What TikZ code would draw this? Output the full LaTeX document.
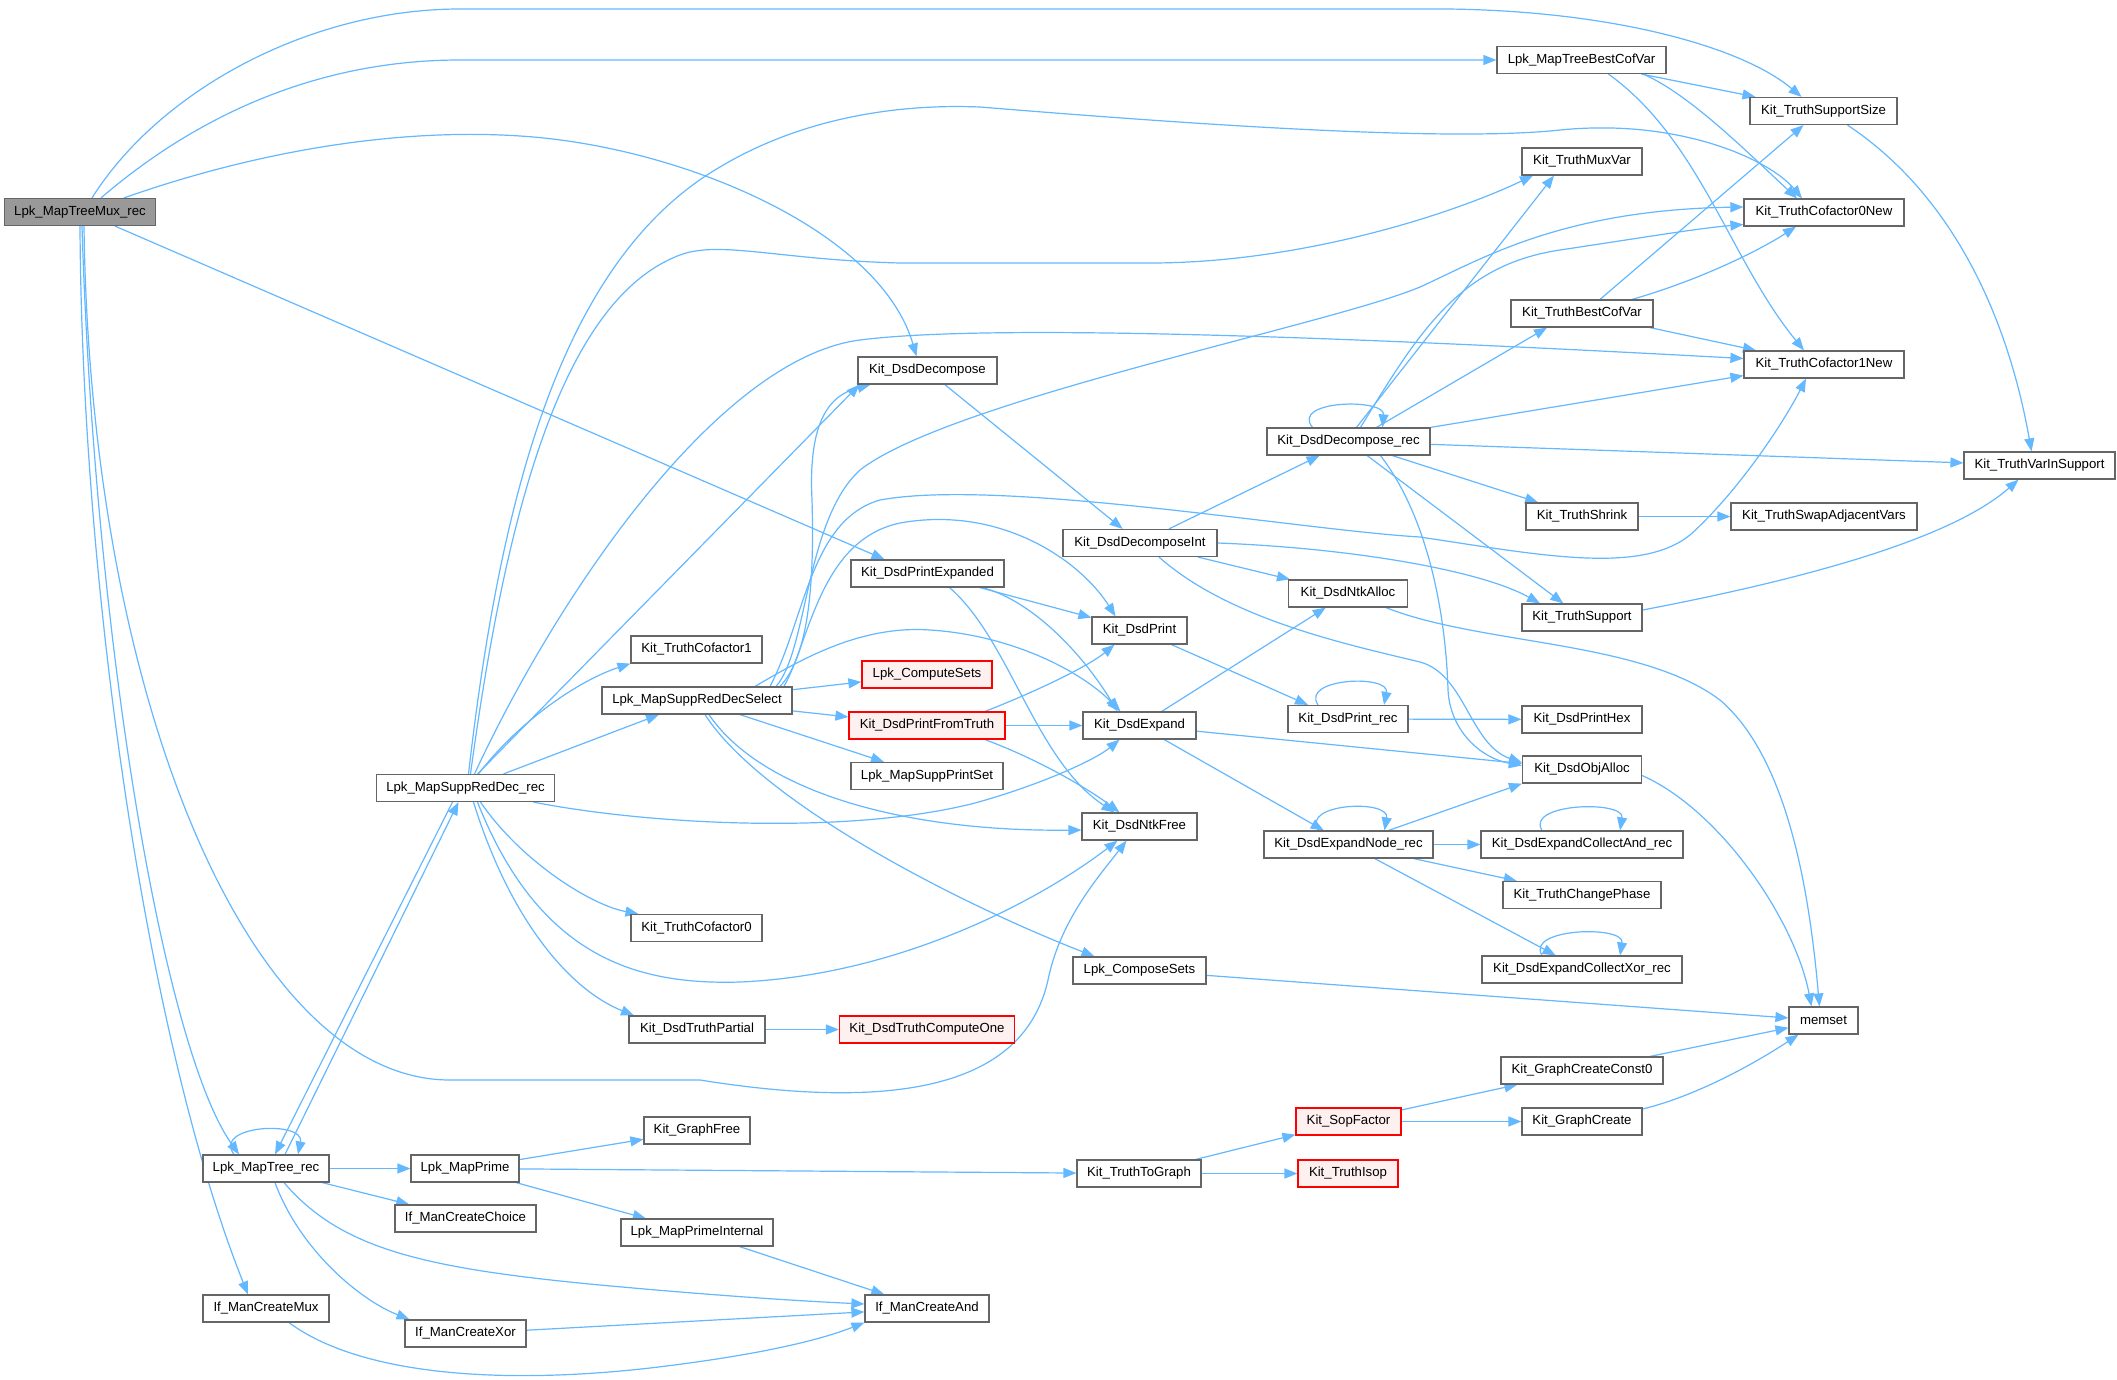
\documentclass[tikz,border=0pt]{standalone}
\usepackage{fontspec}
\setmainfont{Liberation Sans}
\usetikzlibrary{arrows.meta,backgrounds}
\definecolor{edgec}{HTML}{63B8FF}
\definecolor{boxc}{HTML}{666666}
\definecolor{rootf}{HTML}{999999}
\definecolor{redf}{HTML}{FFF0F0}
\definecolor{redc}{HTML}{FF0000}
\begin{document}
\begin{tikzpicture}[x=1pt,y=-1pt,
 fn/.style={draw=boxc,line width=1.2pt,fill=white,minimum height=27pt,inner sep=0pt,font=\fontsize{13.2}{15}\selectfont,text=black},
 rootfn/.style={fn,fill=rootf},
 redfn/.style={fn,draw=redc,fill=redf},
 e/.style={draw=edgec,line width=1.2pt,-{Triangle[length=13pt,width=10pt]}},
]
\useasboundingbox (0,0) rectangle (2117,1379);
\node[rootfn,minimum width=151] (M) at (80,212) {Lpk\_MapTreeMux\_rec};
\node[fn,minimum width=139] (DDc) at (927.5,370.5) {Kit\_DsdDecompose};
\node[fn,minimum width=163] (DDrec) at (1348.5,441.5) {Kit\_DsdDecompose\_rec};
\node[fn,minimum width=169] (MTBCV) at (1581.5,60) {Lpk\_MapTreeBestCofVar};
\node[fn,minimum width=147] (TSS) at (1823.5,111) {Kit\_TruthSupportSize};
\node[fn,minimum width=120] (TMV) at (1582,161.5) {Kit\_TruthMuxVar};
\node[fn,minimum width=160] (CF0N) at (1824,212.5) {Kit\_TruthCofactor0New};
\node[fn,minimum width=142] (TBCV) at (1582,313.5) {Kit\_TruthBestCofVar};
\node[fn,minimum width=160] (CF1N) at (1824,364.5) {Kit\_TruthCofactor1New};
\node[fn,minimum width=151] (TVIS) at (2039.5,465.5) {Kit\_TruthVarInSupport};
\node[fn,minimum width=112] (TSh) at (1582,516.5) {Kit\_TruthShrink};
\node[fn,minimum width=186] (TSAV) at (1824,516.5) {Kit\_TruthSwapAdjacentVars};
\node[fn,minimum width=120] (TSup) at (1582,617.5) {Kit\_TruthSupport};
\node[fn,minimum width=120] (DPH) at (1582,719.5) {Kit\_DsdPrintHex};
\node[fn,minimum width=119] (DOA) at (1582,769.5) {Kit\_DsdObjAlloc};
\node[fn,minimum width=202] (DECA) at (1582,844.5) {Kit\_DsdExpandCollectAnd\_rec};
\node[fn,minimum width=158] (TCP) at (1582,895) {Kit\_TruthChangePhase};
\node[fn,minimum width=200] (DECX) at (1582,969.5) {Kit\_DsdExpandCollectXor\_rec};
\node[fn,minimum width=69] (MEM) at (1823.5,1020.5) {memset};
\node[fn,minimum width=162] (GCC0) at (1582,1070.5) {Kit\_GraphCreateConst0};
\node[fn,minimum width=120] (GC) at (1582,1121.5) {Kit\_GraphCreate};
\node[fn,minimum width=154] (DDInt) at (1140,543) {Kit\_DsdDecomposeInt};
\node[fn,minimum width=153] (DPE) at (927.5,573.5) {Kit\_DsdPrintExpanded};
\node[fn,minimum width=119] (DNA) at (1348,593.5) {Kit\_DsdNtkAlloc};
\node[fn,minimum width=95] (DP) at (1139.5,630.5) {Kit\_DsdPrint};
\node[fn,minimum width=131] (TCF1) at (696.5,649.5) {Kit\_TruthCofactor1};
\node[redfn,minimum width=130] (LCS) at (927,674.5) {Lpk\_ComputeSets};
\node[fn,minimum width=190] (MSRDS) at (697,700.5) {Lpk\_MapSuppRedDecSelect};
\node[fn,minimum width=120] (DPR) at (1348,719) {Kit\_DsdPrint\_rec};
\node[redfn,minimum width=156] (DPFT) at (927,725.5) {Kit\_DsdPrintFromTruth};
\node[fn,minimum width=113] (DE) at (1139.5,725.5) {Kit\_DsdExpand};
\node[fn,minimum width=152] (MSPS) at (927,776) {Lpk\_MapSuppPrintSet};
\node[fn,minimum width=115] (DNF) at (1139.5,826.5) {Kit\_DsdNtkFree};
\node[fn,minimum width=169] (DENr) at (1348.5,844.5) {Kit\_DsdExpandNode\_rec};
\node[fn,minimum width=178] (MSRD) at (465.5,788) {Lpk\_MapSuppRedDec\_rec};
\node[fn,minimum width=131] (TCF0) at (696.5,928) {Kit\_TruthCofactor0};
\node[fn,minimum width=136] (DTP) at (697,1029.5) {Kit\_DsdTruthPartial};
\node[fn,minimum width=106] (GF) at (697,1130.5) {Kit\_GraphFree};
\node[fn,minimum width=126] (MTr) at (266,1168.5) {Lpk\_MapTree\_rec};
\node[fn,minimum width=108] (MP) at (465,1168.5) {Lpk\_MapPrime};
\node[fn,minimum width=141] (IMCC) at (465.5,1218.5) {If\_ManCreateChoice};
\node[fn,minimum width=152] (MPI) at (697,1232.5) {Lpk\_MapPrimeInternal};
\node[fn,minimum width=126] (IMCM) at (266,1308.5) {If\_ManCreateMux};
\node[fn,minimum width=121] (IMCX) at (465.5,1333.5) {If\_ManCreateXor};
\node[fn,minimum width=133] (LCmS) at (1139.5,970.5) {Lpk\_ComposeSets};
\node[redfn,minimum width=175] (DTCO) at (927,1029.5) {Kit\_DsdTruthComputeOne};
\node[redfn,minimum width=105] (SF) at (1348.5,1121.5) {Kit\_SopFactor};
\node[fn,minimum width=124] (TTG) at (1139,1173.5) {Kit\_TruthToGraph};
\node[redfn,minimum width=100] (TI) at (1348,1173.5) {Kit\_TruthIsop};
\node[fn,minimum width=124] (IMCA) at (927,1308.5) {If\_ManCreateAnd};

\begin{scope}[on background layer]
\fill[white] (0,0) rectangle (2117,1379);
% Lpk_MapTreeMux_rec
\draw[e] ([xshift=12]M.north) .. controls (160,90) and (310,9) .. (460,9) -- (1420,9) .. controls (1600,7) and (1740,45) .. ([xshift=-22]TSS.north);
\draw[e] ([xshift=21]M.north) .. controls (180,130) and (300,60) .. (460,60) -- (MTBCV.west);
\draw[e] ([xshift=44]M.north) .. controls (260,150) and (400,128) .. (520,136) .. controls (680,146) and (880,230) .. ([xshift=-11]DDc.north);
\draw[e] ([xshift=35]M.south) -- ([xshift=-43]DPE.north);
\draw[e] ([xshift=2]M.south) .. controls (95,650) and (165,1050) .. ([xshift=-27]MTr.north);
\draw[e] (M.south) .. controls (82,600) and (150,1050) .. ([xshift=-18]IMCM.north);
\draw[e] ([xshift=4]M.south) .. controls (90,700) and (250,1080) .. (450,1080) -- (700,1080) .. controls (950,1120) and (1030,1060) .. (1048,980) .. controls (1060,920) and (1100,875) .. ([xshift=-13]DNF.south);
% Lpk_MapSuppRedDec_rec
\draw[e] ([xshift=3]MSRD.north) .. controls (500,500) and (560,260) .. (720,167) .. controls (790,125) and (880,103) .. (980,107) .. controls (1200,125) and (1450,142) .. (1560,130) .. controls (1680,118) and (1770,160) .. ([xshift=-22]CF0N.north);
\draw[e] ([xshift=5]MSRD.north) .. controls (505,520) and (560,300) .. (680,255) .. controls (720,240) and (780,260) .. (900,263) -- (1150,263) .. controls (1300,263) and (1450,215) .. ([xshift=-49]TMV.south);
\draw[e] ([xshift=12]MSRD.north) -- ([xshift=-68]DDc.south);
\draw[e] ([xshift=9]MSRD.north) .. controls (560,590) and (720,358) .. (860,340) .. controls (1000,322) and (1400,340) .. ([yshift=6]CF1N.west);
\draw[e] ([xshift=13]MSRD.north) .. controls (520,720) and (580,680) .. (TCF1.south west);
\draw[e] ([xshift=38]MSRD.north) -- ([xshift=-38]MSRDS.south);
\draw[e] ([xshift=68]MSRD.south) .. controls (650,825) and (850,835) .. (975,803) .. controls (1040,785) and (1095,760) .. ([xshift=-20]DE.south);
\draw[e] ([xshift=15]MSRD.south) .. controls (520,860) and (590,905) .. ([xshift=-58]TCF0.north);
\draw[e] ([xshift=8]MSRD.south) .. controls (510,920) and (570,990) .. ([xshift=-63]DTP.north);
\draw[e] ([xshift=12]MSRD.south) .. controls (540,960) and (640,985) .. (740,982) .. controls (900,975) and (1040,900) .. ([xshift=-22]DNF.south);
\draw[e] ([xshift=-13]MSRD.south) -- ([xshift=9]MTr.north);
\draw[e] ([xshift=19]MTr.north) -- ([xshift=-7]MSRD.south);
% Lpk_MapSuppRedDecSelect
\draw[e] ([xshift=83]MSRDS.north) .. controls (805,660) and (815,600) .. (812,500) .. controls (808,420) and (830,395) .. ([xshift=-57]DDc.south);
\draw[e] ([xshift=79]MSRDS.north) .. controls (808,650) and (805,520) .. (860,470) .. controls (950,400) and (1330,325) .. (1420,287) .. controls (1480,260) and (1560,210) .. ([yshift=5.5]CF0N.west);
\draw[e] ([xshift=73]MSRDS.north) .. controls (805,620) and (810,520) .. (880,500) .. controls (1000,478) and (1300,530) .. (1420,537) .. controls (1540,555) and (1640,575) .. (1690,535) .. controls (1740,490) and (1785,420) .. ([xshift=-18]CF1N.south);
\draw[e] ([xshift=87]MSRDS.north) .. controls (810,640) and (820,540) .. (900,523) .. controls (1000,505) and (1080,560) .. ([xshift=-24]DP.north);
\draw[e] ([xshift=58]MSRDS.north) .. controls (800,660) and (860,625) .. (930,630) .. controls (1010,635) and (1080,670) .. ([xshift=-19]DE.north);
\draw[e] (MSRDS) -- (LCS);
\draw[e] (MSRDS) -- (DPFT);
\draw[e] (MSRDS) -- (MSPS);
\draw[e] ([xshift=12]MSRDS.south) .. controls (760,790) and (900,832) .. ([yshift=-3.5]DNF.west);
\draw[e] ([xshift=8]MSRDS.south) .. controls (760,800) and (950,900) .. ([xshift=-45]LCmS.north);
% decomposition
\draw[e] (DDc) -- (DDInt);
\draw[e] (DDInt) -- (DDrec);
\draw[e] (DDInt) -- (DNA);
\draw[e] (DDInt.east) .. controls (1350,548) and (1480,570) .. ([xshift=-42]TSup.north);
\draw[e] ([xshift=19]DDInt.south) .. controls (1230,620) and (1350,645) .. (1420,662) .. controls (1465,674) and (1470,745) .. ([yshift=7]DOA.west);
\draw[e] (DPE) -- (DP);
\draw[e] ([xshift=55]DPE.south) .. controls (1030,600) and (1080,650) .. ([xshift=-22]DE.north);
\draw[e] ([xshift=22]DPE.south) .. controls (1010,640) and (1035,760) .. ([xshift=-25]DNF.north);
\draw[e] (DP) -- ([xshift=-40]DPR.north);
\draw[e] ([xshift=-30]DPR.north) .. controls (1300,678) and (1390,674) .. ([xshift=36]DPR.north);
\draw[e] (DPR) -- (DPH);
\draw[e] ([xshift=58]DPFT.north) .. controls (1040,690) and (1090,665) .. ([xshift=-25]DP.south);
\draw[e] (DPFT) -- (DE);
\draw[e] ([xshift=58]DPFT.south) .. controls (1040,760) and (1090,790) .. ([xshift=-20]DNF.north);
\draw[e] (DE) -- (DNA);
\draw[e] (DE) -- (DOA);
\draw[e] (DE) -- (DENr);
\draw[e] ([xshift=38]DNA.south) .. controls (1480,645) and (1640,640) .. (1720,700) .. controls (1790,760) and (1810,900) .. ([xshift=-4]MEM.north);
\draw[e] ([yshift=-6]DOA.east) .. controls (1720,810) and (1795,920) .. ([xshift=-12]MEM.north);
\draw[e] ([xshift=-30]DENr.north) .. controls (1300,803) and (1390,799) .. ([xshift=36]DENr.north);
\draw[e] (DENr) -- (DOA.south west);
\draw[e] (DENr) -- (DECA);
\draw[e] (DENr) -- (TCP);
\draw[e] (DENr) -- (DECX);
\draw[e] ([xshift=-40]DECA.north) .. controls (1525,803) and (1625,800) .. ([xshift=38]DECA.north);
\draw[e] ([xshift=-40]DECX.north) .. controls (1525,928) and (1625,925) .. ([xshift=38]DECX.north);
% Kit_DsdDecompose_rec
\draw[e] ([xshift=-36]DDrec.north) .. controls (1290,400) and (1385,398) .. ([xshift=34]DDrec.north);
\draw[e] ([xshift=8]DDrec.north) -- ([xshift=-28]TMV.south);
\draw[e] ([xshift=12]DDrec.north) .. controls (1420,330) and (1460,265) .. (1560,250) .. controls (1640,238) and (1700,228) .. ([yshift=-12]CF0N.west);
\draw[e] ([xshift=28]DDrec.north) -- ([xshift=-35]TBCV.south);
\draw[e] (DDrec.north east) -- ([yshift=3]CF1N.south west);
\draw[e] (DDrec) -- (TVIS);
\draw[e] (DDrec) -- (TSh);
\draw[e] (DDrec) -- (TSup);
\draw[e] ([xshift=32]DDrec.south) .. controls (1430,520) and (1446,620) .. (1448,690) .. controls (1450,730) and (1480,758) .. ([yshift=4]DOA.west);
% truth tables
\draw[e] ([xshift=18]TBCV.north) -- ([xshift=-20]TSS.south);
\draw[e] ([xshift=50]TBCV.north) .. controls (1700,280) and (1760,250) .. ([xshift=-28]CF0N.south);
\draw[e] ([xshift=68]TBCV.south) -- ([xshift=-68]CF1N.north);
\draw[e] ([xshift=60]MTBCV.south) -- ([xshift=-68]TSS.north);
\draw[e] ([xshift=62]MTBCV.south) .. controls (1690,95) and (1745,150) .. ([xshift=-27]CF0N.north);
\draw[e] ([xshift=27]MTBCV.south) .. controls (1700,140) and (1730,260) .. ([xshift=-20]CF1N.north);
\draw[e] ([xshift=24]TSS.south) .. controls (1960,200) and (2010,330) .. ([xshift=-8]TVIS.north);
\draw[e] (TSh) -- (TSAV);
\draw[e] ([yshift=7.5]TSup.east) .. controls (1800,580) and (1950,540) .. ([xshift=-21]TVIS.south);
% memset and graphs
\draw[e] (LCmS) -- (MEM);
\draw[e] (GCC0) -- (MEM);
\draw[e] ([yshift=12.5]GC.east) .. controls (1700,1095) and (1760,1060) .. ([xshift=-25]MEM.south);
\draw[e] (DTP) -- (DTCO);
% Lpk_MapTree_rec
\draw[e] ([xshift=-32]MTr.north) .. controls (212,1125) and (305,1120) .. ([xshift=32]MTr.north);
\draw[e] (MTr) -- (MP);
\draw[e] (MTr) -- (IMCC);
\draw[e] ([xshift=18]MTr.south) .. controls (340,1248) and (420,1268) .. (600,1285) .. controls (720,1296) and (800,1301) .. ([yshift=4.5]IMCA.west);
\draw[e] ([xshift=9]MTr.south) .. controls (300,1250) and (360,1300) .. ([xshift=-56]IMCX.north);
\draw[e] (MP) -- (GF);
\draw[e] (MP) -- (TTG);
\draw[e] (MP) -- (MPI);
\draw[e] (MPI) -- (IMCA);
\draw[e] (IMCX) -- (IMCA);
\draw[e] ([xshift=23]IMCM.south) .. controls (360,1375) and (500,1385) .. (650,1368) .. controls (760,1355) and (820,1340) .. (IMCA.south west);
\draw[e] (TTG) -- (SF);
\draw[e] (TTG) -- (TI);
\draw[e] (SF) -- (GCC0);
\draw[e] (SF) -- (GC);
\end{scope}
\end{tikzpicture}
\end{document}
